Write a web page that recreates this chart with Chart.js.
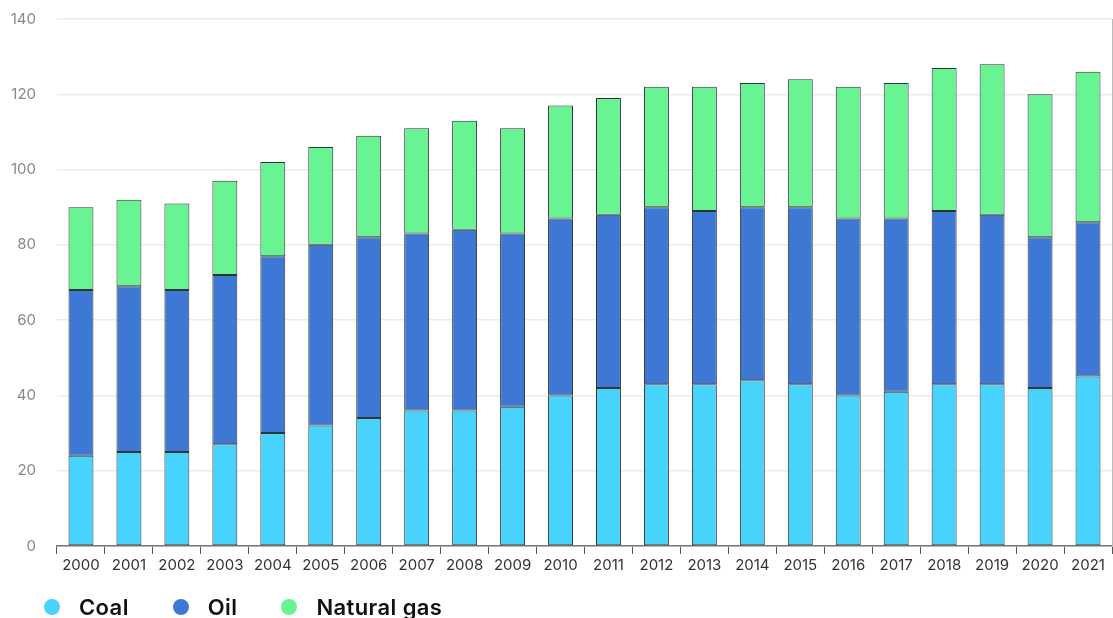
<!DOCTYPE html>
<html>
<head>
<meta charset="utf-8">
<script src="https://cdn.jsdelivr.net/npm/chart.js@4"></script>
<style>
  html, body { margin: 0; padding: 0; background: #fff; }
  #wrap { width: 1113px; height: 618px; position: relative; }
  #legend { position: absolute; left: 44px; top: 594px; display: flex; align-items: center;
    font-family: Inter, sans-serif; font-size: 22px; font-weight: 600; letter-spacing: 0.4px; color: #111; }
  #legend .item { display: flex; align-items: center; margin-right: 44px; }
  #legend .dot { width: 16px; height: 16px; border-radius: 50%; margin-right: 19px; }
</style>
</head>
<body>
<div id="wrap"><canvas id="energyChart"></canvas><div id="legend"></div></div>
<script>
// Yearly consumption by fuel (stacked)
const years = ["2000", "2001", "2002", "2003", "2004", "2005", "2006", "2007", "2008", "2009", "2010",
  "2011", "2012", "2013", "2014", "2015", "2016", "2017", "2018", "2019", "2020", "2021"];
const coal = [24, 25, 25, 27, 30, 32, 34, 36, 36, 37, 40, 42, 43, 43, 44, 43, 40, 41, 43, 43, 42, 45];
const oil = [44, 44, 43, 45, 47, 48, 48, 47, 48, 46, 47, 46, 47, 46, 46, 47, 47, 46, 46, 45, 40, 41];
const naturalGas = [22, 23, 23, 25, 25, 26, 27, 28, 29, 28, 30, 31, 32, 33, 33, 34, 35, 36, 38, 40, 38, 40];

const tickFont = { family: "Inter", size: 15 };

// legend built as html under the canvas
const htmlLegend = {
  id: "htmlLegend",
  afterUpdate(chart) {
    const box = document.getElementById("legend");
    box.innerHTML = "";
    chart.data.datasets.forEach(ds => {
      const item = document.createElement("div");
      item.className = "item";
      const dot = document.createElement("span");
      dot.className = "dot";
      dot.style.background = ds.backgroundColor;
      item.appendChild(dot);
      item.appendChild(document.createTextNode(ds.label));
      box.appendChild(item);
    });
  }
};

const ctx = document.getElementById("energyChart").getContext("2d");
const energyChart = new Chart(ctx, {
  type: "bar",
  data: {
    labels: years,
    datasets: [
      { label: "Coal", data: coal, backgroundColor: "#48d3fd" },
      { label: "Oil", data: oil, backgroundColor: "#3d79d4" },
      { label: "Natural gas", data: naturalGas, backgroundColor: "#68f493" }
    ].map(ds => Object.assign(ds, {
      borderColor: "#333",
      borderWidth: 1,
      borderSkipped: false,
      barPercentage: 0.52,
      categoryPercentage: 1
    }))
  },
  plugins: [htmlLegend],
  options: {
    responsive: true,
    maintainAspectRatio: false,
    animation: false,
    layout: { padding: { left: 0, top: 19, right: 1, bottom: 42 } },
    plugins: {
      tooltip: { enabled: false },
      legend: { display: false }
    },
    scales: {
      x: {
        stacked: true,
        offset: true,
        grid: {
          offset: true,
          drawOnChartArea: false,
          drawTicks: true,
          tickLength: 8,
          color: "#555"
        },
        border: { color: "#777", width: 1.5 },
        ticks: {
          color: "#333",
          padding: 2,
          font: tickFont,
          maxRotation: 0,
          autoSkip: false
        }
      },
      y: {
        stacked: true,
        min: 0,
        max: 140,
        grid: { color: "#ebebeb", lineWidth: 1.5, drawTicks: false },
        border: { display: false },
        ticks: {
          stepSize: 20,
          color: "#888",
          padding: 21,
          font: tickFont
        },
        afterFit(scale) {
          scale.width = 57;
          scale.paddingTop = 0;
        }
      },
      // dotted edge on the right of the plot
      edge: {
        position: "right",
        display: true,
        grid: { drawOnChartArea: false, drawTicks: false },
        border: { color: "#bbb", width: 1, dash: [2, 2] },
        ticks: { display: false },
        afterFit(scale) {
          scale.width = 0;
          scale.paddingTop = 0;
        }
      }
    }
  }
});
</script>
</body>
</html>
